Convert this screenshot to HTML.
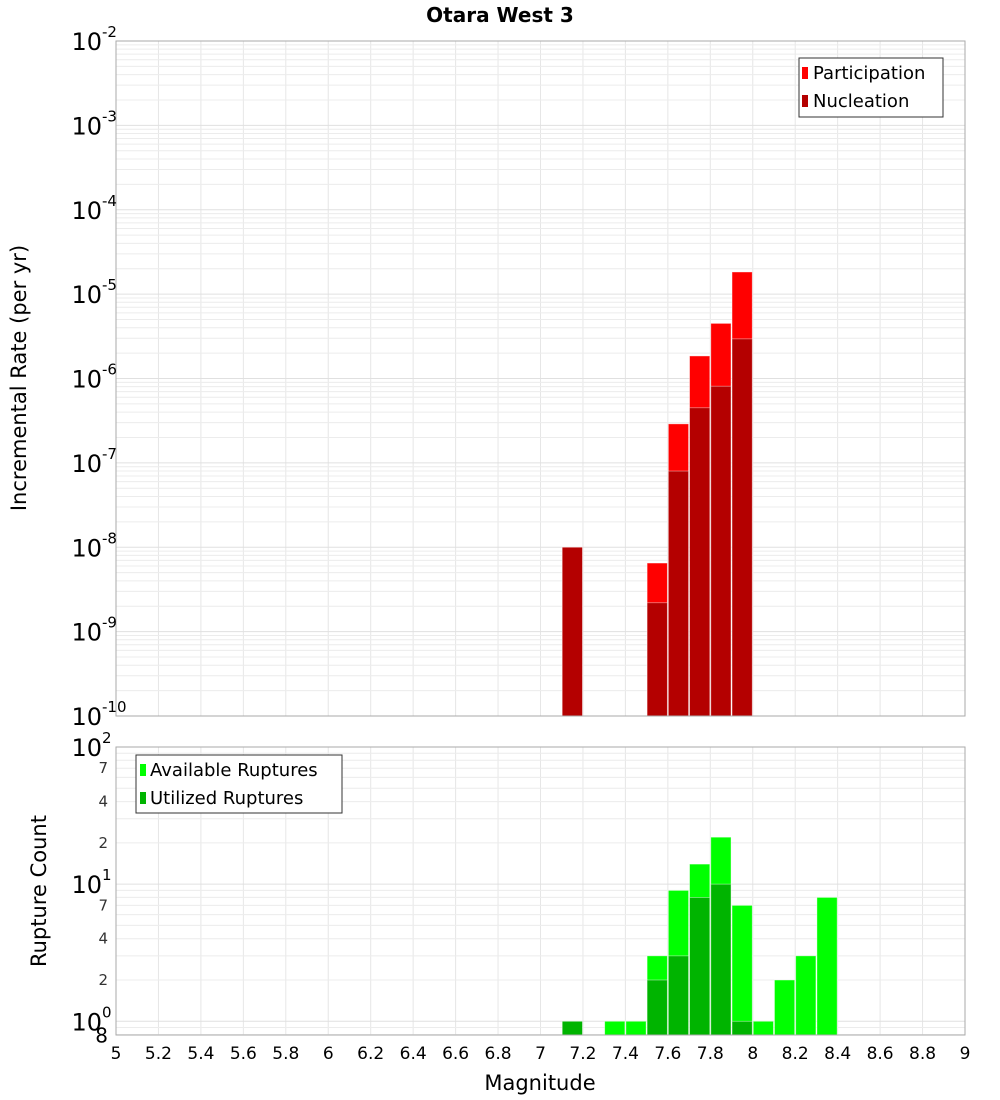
<!DOCTYPE html>
<html><head><meta charset="utf-8"><style>
html,body{margin:0;padding:0;background:#fff;}
svg{display:block;font-family:"DejaVu Sans","Liberation Sans",sans-serif;}
</style></head><body>
<svg id="chart" width="1000" height="1100" viewBox="0 0 1000 1100">
<text x="500" y="22" text-anchor="middle" font-size="20" font-weight="bold">Otara West 3</text>
<g id="gtop"></g>
<g id="gbot"></g>
<text x="540" y="1090" text-anchor="middle" font-size="21">Magnitude</text>
<text transform="translate(26,378) rotate(-90)" text-anchor="middle" font-size="21">Incremental Rate (per yr)</text>
<text transform="translate(46,891) rotate(-90)" text-anchor="middle" font-size="21">Rupture Count</text>
<g id="legends">
<g>
<rect x="799" y="58" width="144" height="59" fill="#fff" stroke="#333"/>
<rect x="802" y="67" width="6" height="12" fill="#ff0000"/>
<text x="813" y="79" font-size="18">Participation</text>
<rect x="802" y="95" width="6" height="12" fill="#b40000"/>
<text x="813" y="107" font-size="18">Nucleation</text>
</g>
<g>
<rect x="136" y="755" width="206" height="58" fill="#fff" stroke="#333"/>
<rect x="140" y="764" width="6" height="12" fill="#00ff00"/>
<text x="150" y="776" font-size="18">Available Ruptures</text>
<rect x="140" y="792" width="6" height="12" fill="#00b400"/>
<text x="150" y="804" font-size="18">Utilized Ruptures</text>
</g>
</g>
</svg>
<script>
const binCenters=[7.15,7.35,7.45,7.55,7.65,7.75,7.85,7.95,8.05,8.15,8.25,8.35];
const participation=[1.0e-8,0,0,6.5e-9,2.9e-7,1.85e-6,4.5e-6,1.83e-5,0,0,0,0];
const nucleation=[1.0e-8,0,0,2.2e-9,8.0e-8,4.5e-7,8.1e-7,2.95e-6,0,0,0,0];
const available=[0,1,1,3,9,14,22,7,1,2,3,8];
const utilized=[1,0,0,2,3,8,10,1,0,0,0,0];
const xTicks=[5,5.2,5.4,5.6,5.8,6,6.2,6.4,6.6,6.8,7,7.2,7.4,7.6,7.8,8,8.2,8.4,8.6,8.8,9];
const topDecades=[-2,-3,-4,-5,-6,-7,-8,-9,-10];
const botDecades=[2,1,0];
const botMinorLabels=[7,4,2];

const NS="http://www.w3.org/2000/svg";
const X0=116,X1=965;
const xs=m=>X0+(m-5)/4*(X1-X0);
const T0=41,T1=716; const ty=v=>T0+(-2-Math.log10(v))/8*(T1-T0);
const B0=747,B1=1035; const by=v=>B0+(2-Math.log10(v))/2.1*(B1-B0);
function mk(p,tag,a,txt){const e=document.createElementNS(NS,tag);for(const k in a)e.setAttribute(k,a[k]);if(txt!==undefined)e.textContent=txt;p.appendChild(e);return e;}
const svgEl=document.getElementById('chart');
const gTop=document.getElementById('gtop'), gBot=document.getElementById('gbot');
const legends=document.getElementById('legends');

function grid(g,y0,y1,yf,lo,hi){
  for(const t of xTicks){const l=mk(g,'line',{x1:xs(t),x2:xs(t),y1:y0,y2:y1,stroke:'#e6e6e6'});
  
  }
  for(let d=lo;d<hi;d++)for(let k=1;k<10;k++){const v=k*Math.pow(10,d);const y=yf(v);if(y<y0-0.5||y>y1+0.5)continue;
    const l=mk(g,'line',{x1:X0,x2:X1,y1:y,y2:y,stroke:k==1?'#e0e0e0':'#ececec'});
    
    }
}
grid(gTop,T0,T1,ty,-10,-2);
grid(gBot,B0,B1,by,-1,2);
const bw=(X1-X0)/40;
function bar(g,c,v,yf,ybot,col,name){if(!v)return;const x=xs(c)-bw/2+0.5;const y=yf(v);
  const r=mk(g,'rect',{x:x,y:y,width:bw-1,height:ybot-y,fill:col,stroke:'#fff','stroke-opacity':0.5,'stroke-width':0.8});
  
  }
binCenters.forEach((c,i)=>{bar(gTop,c,participation[i],ty,T1,'#ff0000','participation-bar');bar(gTop,c,nucleation[i],ty,T1,'#b40000','nucleation-bar');
  bar(gBot,c,available[i],by,B1,'#00ff00','available-bar');bar(gBot,c,utilized[i],by,B1,'#00b400','utilized-bar');});
[[T0,T1],[B0,B1]].forEach(([a,b])=>{const r=mk(svgEl,'rect',{x:X0,y:a,width:X1-X0,height:b-a,fill:'none',stroke:'#aaa'});

});
function dec(y,e){const t=mk(svgEl,'text',{x:102,y:y+9,'text-anchor':'end','font-size':24},'10');
  
  
  const s=mk(svgEl,'text',{x:102,y:y-4,'font-size':15},String(e));
  
  }
topDecades.forEach(e=>dec(ty(Math.pow(10,e)),e));
botDecades.forEach(e=>dec(by(Math.pow(10,e)),e));
for(let d=0;d<2;d++)botMinorLabels.forEach(k=>{const t=mk(svgEl,'text',{x:108,y:by(k*Math.pow(10,d))+5,'text-anchor':'end','font-size':15,fill:'#333'},String(k));
  
  });
{const t=mk(svgEl,'text',{x:108,y:by(0.8)+8,'text-anchor':'end','font-size':20},'8');

}
xTicks.forEach(m=>{const t=mk(svgEl,'text',{x:xs(m),y:1059,'text-anchor':'middle','font-size':17},String(m));
  
  });
svgEl.appendChild(legends);
</script>
</body></html>
